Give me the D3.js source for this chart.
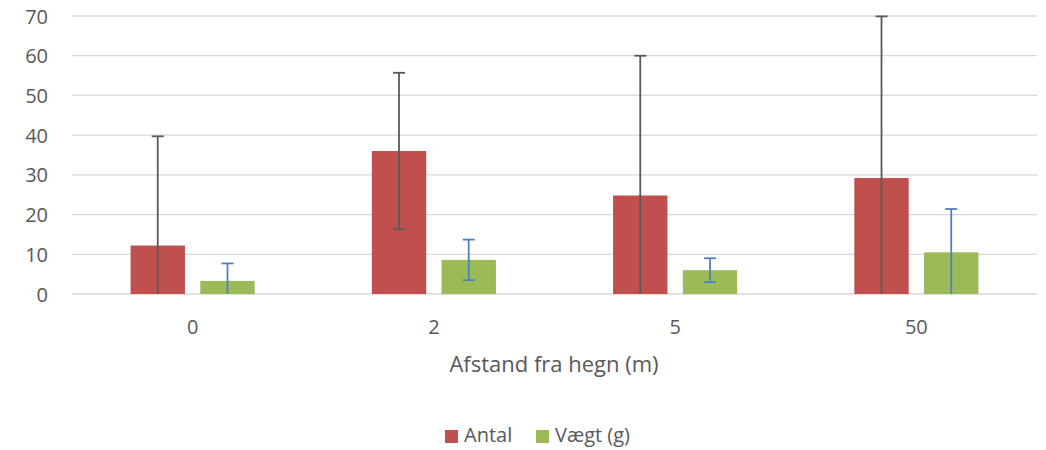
<!DOCTYPE html>
<html lang="da">
<head>
<meta charset="UTF-8">
<title>Afstand fra hegn</title>
<style>
  body { margin: 0; background: #fff; }
  svg { display: block; font-family: "Open Sans", sans-serif; }
</style>
</head>
<body>
<script src="https://cdn.jsdelivr.net/npm/d3@7"></script>
<script>
// data
const kategorier = ['0', '2', '5', '50'];
const serier = ['Antal', 'Vægt (g)'];
const antal = [12.2, 36.0, 24.8, 29.2];
const antalFejl = [27.5, 19.7, 35.2, 40.7];
const vaegt = [3.3, 8.6, 6.0, 10.5];
const vaegtFejl = [4.4, 5.1, 3.0, 10.9];
const yTicks = [0, 10, 20, 30, 40, 50, 60, 70];

const farver = ['#C0504D', '#9BBB59'];
const fejlFarver = ['#595959', '#4F81BD'];

const width = 1046, height = 450;
const svg = d3.select('body').append('svg')
    .attr('width', width)
    .attr('height', height);

// echelles
const x = d3.scaleBand()
    .domain(kategorier)
    .range([72, 1037]);

const xInd = d3.scaleBand()
    .domain(serier)
    .range([0, x.bandwidth()])
    .paddingInner(0.22)
    .paddingOuter(0.84);

const y = d3.scaleLinear()
    .domain([0, 70])
    .range([294, 16]);

// gitter
svg.append('g').selectAll('line')
    .data(yTicks)
    .enter()
    .append('line')
    .attr('x1', 72)
    .attr('x2', 1037)
    .attr('y1', d => y(d))
    .attr('y2', d => y(d))
    .attr('stroke', '#D9D9D9')
    .attr('stroke-width', 1.3);

// y-akse
const yAkse = d3.axisLeft(y).tickValues(yTicks).tickSize(0).tickPadding(0);
const gy = svg.append('g')
    .attr('transform', 'translate(48,0)')
    .call(yAkse)
    .attr('font-family', '"Open Sans", sans-serif')
    .attr('font-size', 20);
gy.select('.domain').remove();
gy.selectAll('text')
    .attr('fill', '#595959')
    .attr('dy', '0.35em');

// x-akse
const xAkse = d3.axisBottom(x).tickSize(0).tickPadding(0);
const gx = svg.append('g')
    .attr('transform', 'translate(0,327)')
    .call(xAkse)
    .attr('font-family', '"Open Sans", sans-serif')
    .attr('font-size', 20);
gx.select('.domain').remove();
gx.selectAll('text')
    .attr('fill', '#595959')
    .attr('dy', '0.35em');

// data pr. serie
const rækker = kategorier.map((k, i) => [
    { kat: k, serie: serier[0], v: antal[i], e: antalFejl[i], s: 0 },
    { kat: k, serie: serier[1], v: vaegt[i], e: vaegtFejl[i], s: 1 }
]).flat();

// sojler
svg.append('g').selectAll('rect')
    .data(rækker)
    .enter()
    .append('rect')
    .attr('x', d => x(d.kat) + xInd(d.serie))
    .attr('y', d => y(d.v))
    .attr('width', xInd.bandwidth())
    .attr('height', d => y(0) - y(d.v))
    .attr('fill', d => farver[d.s]);

// fejlsojler
const fejl = svg.append('g').selectAll('g')
    .data(rækker)
    .enter()
    .append('g')
    .attr('stroke', d => fejlFarver[d.s])
    .attr('stroke-width', 1.8);

const cx = d => x(d.kat) + xInd(d.serie) + xInd.bandwidth() / 2;
const lav = d => Math.max(0, d.v - d.e);

fejl.append('line')
    .attr('x1', cx).attr('x2', cx)
    .attr('y1', d => y(d.v + d.e))
    .attr('y2', d => y(lav(d)));

fejl.append('line')
    .attr('x1', d => cx(d) - 6).attr('x2', d => cx(d) + 6)
    .attr('y1', d => y(d.v + d.e))
    .attr('y2', d => y(d.v + d.e));

fejl.filter(d => d.v - d.e > 0).append('line')
    .attr('x1', d => cx(d) - 6).attr('x2', d => cx(d) + 6)
    .attr('y1', d => y(d.v - d.e))
    .attr('y2', d => y(d.v - d.e));

// aksetitel
svg.append('text')
    .attr('x', 554)
    .attr('y', 372)
    .attr('text-anchor', 'middle')
    .attr('fill', '#595959')
    .style('font-size', '22px')
    .text('Afstand fra hegn (m)');

// forklaring
const legendX = [445, 536];
const legende = svg.append('g').selectAll('g')
    .data(serier)
    .enter()
    .append('g')
    .attr('transform', (d, i) => `translate(${legendX[i]},430)`);

legende.append('rect')
    .attr('width', 13)
    .attr('height', 13)
    .attr('fill', (d, i) => farver[i]);

legende.append('text')
    .attr('x', 19)
    .attr('y', 12)
    .attr('fill', '#595959')
    .style('font-size', '20px')
    .text(d => d);
</script>
</body>
</html>
